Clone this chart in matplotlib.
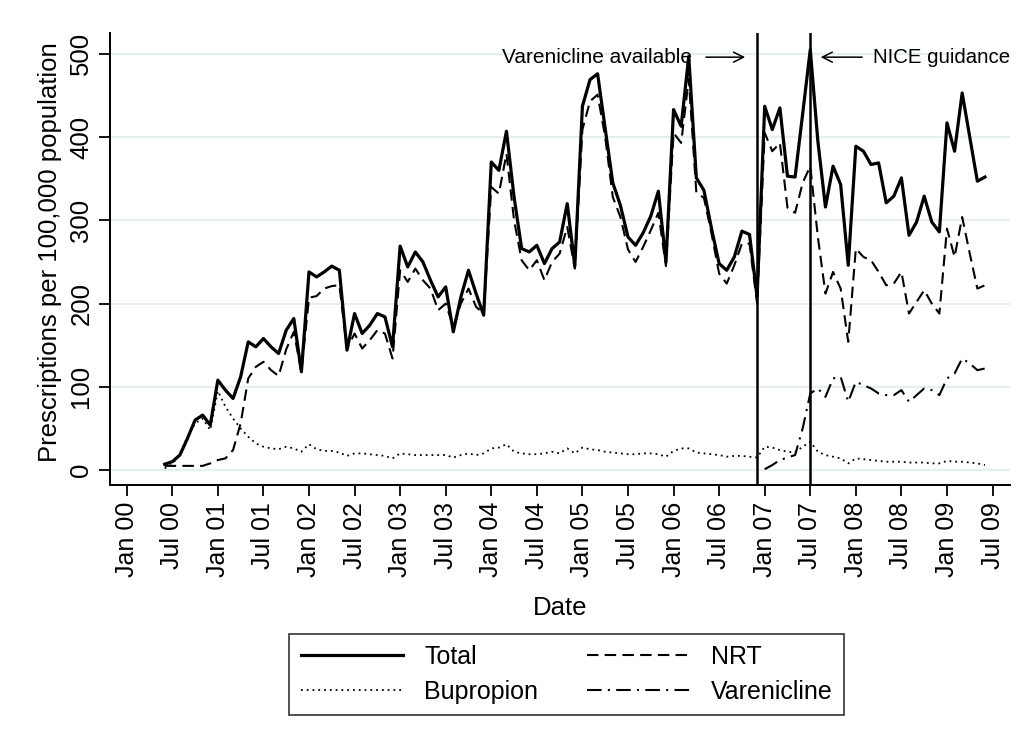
import numpy as np
import pandas as pd
import matplotlib
matplotlib.use('Agg')
import matplotlib.pyplot as plt

plt.rcParams['font.family'] = ['Liberation Sans', 'DejaVu Sans']

# monthly series, Jun 2000 .. Jun 2009
months = pd.period_range('2000-06', '2009-06', freq='M')
vare_months = pd.period_range('2007-01', '2009-06', freq='M')

total = [7, 10, 18, 38, 60, 66, 54, 108, 96, 86,
         112, 154, 148, 158, 148, 140, 168, 182, 118, 238,
         232, 238, 245, 240, 144, 188, 164, 174, 188, 184,
         148, 269, 244, 262, 250, 228, 208, 220, 166, 208,
         240, 212, 186, 370, 360, 407, 328, 266, 262, 270,
         248, 266, 274, 320, 245, 437, 469, 476, 410, 345,
         318, 280, 270, 285, 305, 335, 250, 433, 413, 497,
         351, 336, 290, 248, 240, 256, 287, 283, 208, 437,
         409, 435, 353, 352, 428, 505, 395, 316, 365, 343,
         246, 389, 383, 367, 369, 321, 329, 351, 282, 298,
         329, 298, 286, 417, 383, 453, 400, 347, 352]

nrt = [5, 5, 5, 5, 5, 5, 8, 12, 14, 24,
       56, 110, 124, 130, 120, 113, 145, 166, 118, 207,
       209, 218, 221, 222, 146, 164, 146, 156, 168, 164,
       134, 240, 226, 242, 228, 218, 192, 200, 172, 200,
       218, 196, 188, 340, 332, 380, 300, 252, 240, 252,
       228, 250, 260, 292, 242, 409, 443, 451, 400, 328,
       304, 265, 250, 268, 288, 309, 245, 405, 393, 470,
       333, 327, 284, 236, 224, 246, 272, 272, 200, 405,
       383, 393, 315, 309, 345, 365, 280, 212, 238, 218,
       154, 266, 256, 252, 238, 222, 224, 238, 188, 202,
       216, 200, 188, 290, 256, 304, 260, 218, 222]

bupropion = [2, 7, 20, 40, 56, 62, 48, 95, 76, 62,
             50, 40, 32, 28, 26, 25, 28, 26, 22, 31,
             25, 23, 23, 21, 17, 20, 20, 19, 18, 17,
             14, 20, 19, 18, 18, 18, 18, 18, 15, 18,
             20, 18, 20, 26, 27, 31, 22, 20, 19, 19,
             20, 22, 20, 26, 20, 27, 25, 24, 22, 21,
             20, 19, 19, 20, 20, 19, 16, 23, 26, 26,
             21, 20, 19, 18, 16, 17, 17, 16, 15, 28,
             27, 24, 22, 21, 28, 34, 22, 18, 16, 14,
             8, 14, 13, 12, 11, 10, 10, 10, 9, 9,
             9, 8, 8, 11, 10, 10, 9, 8, 6]

varenicline = [1, 6, 12, 15, 18, 50, 92, 98, 88, 110,
               112, 82, 106, 102, 98, 92, 90, 90, 96, 82,
               90, 98, 96, 90, 110, 116, 134, 128, 120, 122]

tick_labels = ['Jan 00', 'Jul 00', 'Jan 01', 'Jul 01', 'Jan 02', 'Jul 02',
               'Jan 03', 'Jul 03', 'Jan 04', 'Jul 04', 'Jan 05', 'Jul 05',
               'Jan 06', 'Jul 06', 'Jan 07', 'Jul 07', 'Jan 08', 'Jul 08',
               'Jan 09', 'Jul 09']

vare_available = pd.Period('2006-12', freq='M')
nice_guidance = pd.Period('2007-07', freq='M')


def midx(p):
    return (p.year - 2000) * 12 + p.month - 1


x = [midx(p) for p in months]
xv = [midx(p) for p in vare_months]

fig = plt.figure(figsize=(10.3, 7.47), dpi=100)
ax = fig.add_axes([0.1068, 0.3507, 0.8738, 0.6051])

l_total, = ax.plot(x, total, color='black', lw=2.3, label='Total')
l_nrt, = ax.plot(x, nrt, color='black', lw=1.5, ls=(0, (5.5, 3)), label='NRT')
l_bup, = ax.plot(x, bupropion, color='black', lw=1.3, ls=(0, (1, 2.2)), label='Bupropion')
l_var, = ax.plot(xv, varenicline, color='black', lw=1.5, ls=(0, (7, 3, 1, 3)), label='Varenicline')

ax.axvline(midx(vare_available), color='black', lw=1.8)
ax.axvline(midx(nice_guidance), color='black', lw=1.8)

ax.annotate('', xy=(81.8, 496), xytext=(75.9, 496),
            arrowprops=dict(arrowstyle='->', color='black', lw=1.1, mutation_scale=18))
ax.text(74.4, 496, 'Varenicline available', ha='right', va='center', fontsize=15)
ax.annotate('', xy=(91.0, 496), xytext=(97.2, 496),
            arrowprops=dict(arrowstyle='->', color='black', lw=1.1, mutation_scale=18))
ax.text(98.3, 496, 'NICE guidance', ha='left', va='center', fontsize=14.7)

ax.set_xlim(-2.2, 116.3)
ax.set_ylim(-18, 525)

ax.set_xticks(np.arange(len(tick_labels)) * 6)
ax.set_xticklabels(tick_labels, rotation=90, fontsize=18)
ax.set_yticks([0, 100, 200, 300, 400, 500])
ax.set_yticklabels(['0', '100', '200', '300', '400', '500'], rotation=90, va='center', fontsize=18.5)
ax.tick_params(axis='both', length=8, width=1.3, color='black', pad=4)

ax.yaxis.grid(True, color='#e6eef1', lw=1.6)
ax.set_axisbelow(True)
for side in ['top', 'right']:
    ax.spines[side].set_visible(False)
for side in ['left', 'bottom']:
    ax.spines[side].set_linewidth(1.4)

ax.set_xlabel('Date', fontsize=18.5)
ax.xaxis.set_label_coords(0.5, -0.245)
ax.set_ylabel('Prescriptions per 100,000 population', fontsize=18.5)
ax.yaxis.set_label_coords(-0.053, 0.515)

leg = fig.legend(handles=[l_total, l_bup, l_nrt, l_var], loc='center',
                 bbox_to_anchor=(0.55, 0.097), ncol=2, fontsize=18,
                 frameon=True, fancybox=False, edgecolor='black',
                 handlelength=4.1, handletextpad=0.85, columnspacing=1.95,
                 labelspacing=0.45, borderpad=0.45)
leg.get_frame().set_linewidth(1.2)

fig.savefig('out.png', dpi=100)
